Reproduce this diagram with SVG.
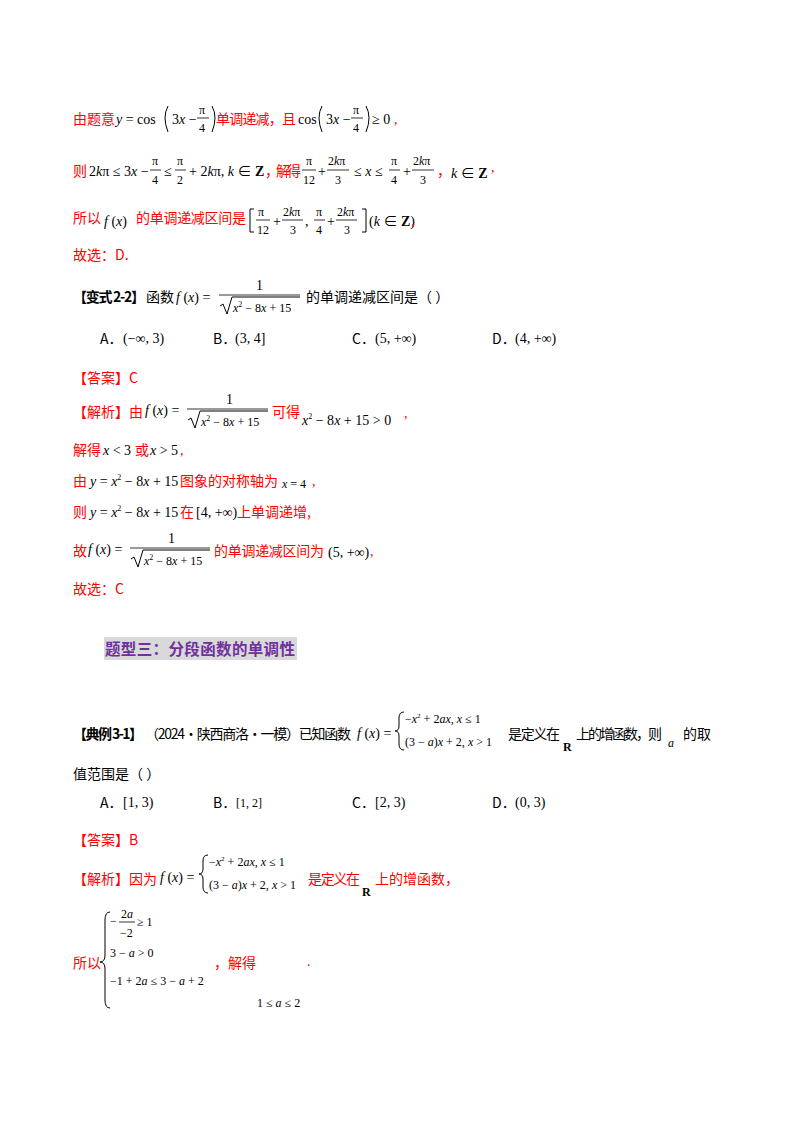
<svg xmlns="http://www.w3.org/2000/svg" width="800" height="1132" viewBox="0 0 800 1132">
<style>
text{font-family:"Liberation Serif","Noto Sans CJK SC",serif;font-size:14px;fill:#000}
.r{fill:#f00}
.cn{font-family:"Noto Sans CJK SC","Liberation Serif",sans-serif}
.i{font-style:italic}
.b{font-weight:bold}
.s{font-size:12px}
.fl{stroke:#000;stroke-width:0.8}
.p{fill:none;stroke:#000;stroke-width:1}
</style>
<rect width="800" height="1132" fill="#fff"/>
<!-- line 1 -->
<text x="73" y="124" class="cn r">由题意</text>
<text x="116" y="124"><tspan class="i">y</tspan> = cos</text>
<path class="p" d="M168 106 Q162 117 168 132"/>
<text x="172" y="124">3<tspan class="i">x</tspan> −</text>
<text x="199" y="114" class="s">π</text><line class="fl" x1="197" y1="118" x2="209" y2="118"/><text x="199" y="132" class="s">4</text>
<path class="p" d="M212 106 Q218 117 212 132"/>
<text x="216" y="124" class="cn r" textLength="80">单调递减，且</text>
<text x="298" y="124">cos</text>
<path class="p" d="M322 106 Q316 117 322 132"/>
<text x="326" y="124">3<tspan class="i">x</tspan> −</text>
<text x="353" y="114" class="s">π</text><line class="fl" x1="351" y1="118" x2="363" y2="118"/><text x="353" y="132" class="s">4</text>
<path class="p" d="M366 106 Q372 117 366 132"/>
<text x="372" y="124">≥ 0</text><text x="394" y="124" class="r">,</text>
<!-- line 2 -->
<text x="73" y="176" class="cn r">则</text>
<text x="89" y="176">2<tspan class="i">k</tspan>π ≤ 3<tspan class="i">x</tspan> −</text>
<text x="152" y="165" class="s">π</text><line class="fl" x1="150" y1="170" x2="161" y2="170"/><text x="152" y="184" class="s">4</text>
<text x="164" y="176">≤</text>
<text x="177" y="165" class="s">π</text><line class="fl" x1="175" y1="170" x2="186" y2="170"/><text x="177" y="184" class="s">2</text>
<text x="189" y="176">+ 2<tspan class="i">k</tspan>π, <tspan class="i">k</tspan> ∈ <tspan class="b">Z</tspan></text>
<text x="265" y="176" class="cn r" textLength="36">，解得</text>
<text x="306" y="165" class="s">π</text><line class="fl" x1="302" y1="170" x2="316" y2="170"/><text x="303" y="184" class="s">12</text>
<text x="318" y="176">+</text>
<text x="328" y="165" class="s">2<tspan class="i">k</tspan>π</text><line class="fl" x1="327" y1="170" x2="349" y2="170"/><text x="335" y="184" class="s">3</text>
<text x="354" y="176">≤ <tspan class="i">x</tspan> ≤</text>
<text x="391" y="165" class="s">π</text><line class="fl" x1="389" y1="170" x2="400" y2="170"/><text x="391" y="184" class="s">4</text>
<text x="403" y="176">+</text>
<text x="413" y="165" class="s">2<tspan class="i">k</tspan>π</text><line class="fl" x1="412" y1="170" x2="434" y2="170"/><text x="420" y="184" class="s">3</text>
<text x="437" y="176" class="r">，</text>
<text x="451" y="178"><tspan class="i">k</tspan> ∈ <tspan class="b">Z</tspan></text><text x="491" y="172" class="r">,</text>
<!-- line 3 -->
<text x="73" y="223" class="cn r">所以</text>
<text x="104" y="226"><tspan class="i">f</tspan> (<tspan class="i">x</tspan>)</text>
<text x="136" y="223" class="cn r" textLength="110">的单调递减区间是</text>
<path class="p" d="M254 209 L250 209 L250 232 L254 232"/>
<text x="258" y="216" class="s">π</text><line class="fl" x1="256" y1="220" x2="270" y2="220"/><text x="257" y="234" class="s">12</text>
<text x="273" y="226">+</text>
<text x="283" y="216" class="s">2<tspan class="i">k</tspan>π</text><line class="fl" x1="282" y1="220" x2="303" y2="220"/><text x="290" y="234" class="s">3</text>
<text x="305" y="226">,</text>
<text x="316" y="216" class="s">π</text><line class="fl" x1="314" y1="220" x2="325" y2="220"/><text x="316" y="234" class="s">4</text>
<text x="327" y="226">+</text>
<text x="337" y="216" class="s">2<tspan class="i">k</tspan>π</text><line class="fl" x1="336" y1="220" x2="357" y2="220"/><text x="344" y="234" class="s">3</text>
<path class="p" d="M362 209 L366 209 L366 232 L362 232"/>
<text x="369" y="226">(<tspan class="i">k</tspan> ∈ <tspan class="b">Z</tspan>)</text><text x="411" y="226" class="r">.</text>
<!-- line 4 -->
<text x="73" y="260" class="cn r">故选：D.</text>
<!-- variant 2-2 -->
<text x="73" y="302" class="cn b" textLength="72">【变式 2-2】</text>
<text x="146" y="302" class="cn">函数</text>
<text x="176" y="302"><tspan class="i">f</tspan> (<tspan class="i">x</tspan>) =</text>
<text x="256" y="290">1</text><line class="fl" x1="219" y1="295" x2="300" y2="295"/>
<path class="p" d="M220 306 L223 304 L227 314 L232 297 L300 297"/>
<text x="233" y="312" class="s"><tspan class="i">x</tspan><tspan dy="-5" font-size="8">2</tspan><tspan dy="5"> − 8<tspan class="i">x</tspan> + 15</tspan></text>
<text x="306" y="302" class="cn">的单调递减区间是（    ）</text>
<text x="100" y="344" class="cn">A．</text><text x="123" y="343">(−∞, 3)</text>
<text x="213" y="344" class="cn">B．</text><text x="235" y="343">(3, 4]</text>
<text x="352" y="344" class="cn">C．</text><text x="375" y="343">(5, +∞)</text>
<text x="492" y="344" class="cn">D．</text><text x="515" y="343">(4, +∞)</text>
<text x="73" y="383" class="cn r">【答案】C</text>
<!-- analysis -->
<text x="73" y="417" class="cn r">【解析】由</text>
<text x="145" y="415"><tspan class="i">f</tspan> (<tspan class="i">x</tspan>) =</text>
<text x="226" y="404">1</text><line class="fl" x1="187" y1="409" x2="268" y2="409"/>
<path class="p" d="M188 420 L191 418 L195 428 L200 411 L268 411"/>
<text x="201" y="426" class="s"><tspan class="i">x</tspan><tspan dy="-5" font-size="8">2</tspan><tspan dy="5"> − 8<tspan class="i">x</tspan> + 15</tspan></text>
<text x="272" y="417" class="cn r">可得</text>
<text x="302" y="425"><tspan class="i">x</tspan><tspan dy="-6" font-size="8">2</tspan><tspan dy="6"> − 8<tspan class="i">x</tspan> + 15 &gt; 0</tspan></text><text x="404" y="418" class="r">,</text>
<text x="73" y="455" class="cn r">解得</text>
<text x="103" y="455"><tspan class="i">x</tspan> &lt; 3</text><text x="135" y="455" class="cn r">或</text><text x="150" y="455"><tspan class="i">x</tspan> &gt; 5</text><text x="180" y="455" class="r">,</text>
<text x="73" y="486" class="cn r">由</text>
<text x="90" y="486"><tspan class="i">y</tspan> = <tspan class="i">x</tspan><tspan dy="-6" font-size="8">2</tspan><tspan dy="6"> − 8<tspan class="i">x</tspan> + 15</tspan></text>
<text x="180" y="486" class="cn r">图象的对称轴为</text>
<text x="282" y="488" class="s"><tspan class="i">x</tspan> = 4</text><text x="312" y="486" class="r">,</text>
<text x="73" y="517" class="cn r">则</text>
<text x="90" y="517"><tspan class="i">y</tspan> = <tspan class="i">x</tspan><tspan dy="-6" font-size="8">2</tspan><tspan dy="6"> − 8<tspan class="i">x</tspan> + 15</tspan></text>
<text x="180" y="517" class="cn r">在</text><text x="196" y="517">[4, +∞)</text>
<text x="237" y="517" class="cn r">上单调递增,</text>
<text x="73" y="556" class="cn r">故</text>
<text x="88" y="554"><tspan class="i">f</tspan> (<tspan class="i">x</tspan>) =</text>
<text x="168" y="543">1</text><line class="fl" x1="130" y1="548" x2="210" y2="548"/>
<path class="p" d="M131 559 L134 557 L138 567 L143 550 L210 550"/>
<text x="144" y="565" class="s"><tspan class="i">x</tspan><tspan dy="-5" font-size="8">2</tspan><tspan dy="5"> − 8<tspan class="i">x</tspan> + 15</tspan></text>
<text x="214" y="556" class="cn r" textLength="110">的单调递减区间为</text>
<text x="328" y="557">(5, +∞)</text><text x="370" y="556" class="r">,</text>
<text x="73" y="594" class="cn r">故选：C</text>
<!-- heading -->
<rect x="104" y="637" width="193" height="23" fill="#d9d9d9"/>
<text x="105" y="655" class="cn b" style="font-size:15.5px;fill:#7030a0" textLength="190">题型三：分段函数的单调性</text>
<!-- example 3-1 -->
<text x="73" y="739" class="cn b" textLength="70">【典例 3-1】</text>
<text x="145" y="739" class="cn" textLength="206">（2024·陕西商洛·一模）已知函数</text>
<text x="357" y="738"><tspan class="i">f</tspan> (<tspan class="i">x</tspan>) =</text>
<path class="p" d="M404 712 Q399 712 399 718 L399 726 Q399 731 395 731 Q399 731 399 736 L399 744 Q399 750 404 750"/>
<text x="405" y="723" class="s">−<tspan class="i">x</tspan><tspan dy="-5" font-size="7">2</tspan><tspan dy="5"> + 2<tspan class="i">ax</tspan>, <tspan class="i">x</tspan> ≤ 1</tspan></text>
<text x="405" y="746" class="s">(3 − <tspan class="i">a</tspan>)<tspan class="i">x</tspan> + 2, <tspan class="i">x</tspan> &gt; 1</text>
<text x="508" y="739" class="cn" textLength="52">是定义在</text>
<text x="563" y="751" class="b s">R</text>
<text x="576" y="739" class="cn" textLength="86">上的增函数，则</text>
<text x="668" y="747" class="i s">a</text>
<text x="683" y="739" class="cn">的取</text>
<text x="73" y="779" class="cn">值范围是（    ）</text>
<text x="100" y="808" class="cn">A．</text><text x="123" y="807">[1, 3)</text>
<text x="213" y="808" class="cn">B．</text><text x="236" y="807" class="s">[1, 2]</text>
<text x="352" y="808" class="cn">C．</text><text x="375" y="807">[2, 3)</text>
<text x="492" y="808" class="cn">D．</text><text x="515" y="807">(0, 3)</text>
<text x="73" y="845" class="cn r">【答案】B</text>
<text x="73" y="884" class="cn r">【解析】因为</text>
<text x="160" y="882"><tspan class="i">f</tspan> (<tspan class="i">x</tspan>) =</text>
<path class="p" d="M208 855 Q203 855 203 861 L203 869 Q203 874 199 874 Q203 874 203 879 L203 887 Q203 893 208 893"/>
<text x="209" y="866" class="s">−<tspan class="i">x</tspan><tspan dy="-5" font-size="7">2</tspan><tspan dy="5"> + 2<tspan class="i">ax</tspan>, <tspan class="i">x</tspan> ≤ 1</tspan></text>
<text x="209" y="889" class="s">(3 − <tspan class="i">a</tspan>)<tspan class="i">x</tspan> + 2, <tspan class="i">x</tspan> &gt; 1</text>
<text x="308" y="884" class="cn r" textLength="52">是定义在</text>
<text x="362" y="896" class="b s">R</text>
<text x="375" y="884" class="cn r">上的增函数，</text>
<!-- system -->
<text x="73" y="968" class="cn r">所以</text>
<path class="p" d="M110 912 Q105 912 105 920 L105 955 Q105 962 100 962 Q105 962 105 969 L105 1000 Q105 1008 110 1008"/>
<text x="110" y="925" class="s">−</text>
<text x="121" y="918" class="s">2<tspan class="i">a</tspan></text><line class="fl" x1="119" y1="922" x2="135" y2="922"/><text x="120" y="937" class="s">−2</text>
<text x="137" y="926" class="s">≥ 1</text>
<text x="110" y="957" class="s">3 − <tspan class="i">a</tspan> &gt; 0</text>
<text x="110" y="985" class="s">−1 + 2<tspan class="i">a</tspan> ≤ 3 − <tspan class="i">a</tspan> + 2</text>
<text x="214" y="968" class="cn r">，解得</text>
<text x="307" y="966" class="r">.</text>
<text x="257" y="1007" class="s">1 ≤ <tspan class="i">a</tspan> ≤ 2</text>
</svg>
